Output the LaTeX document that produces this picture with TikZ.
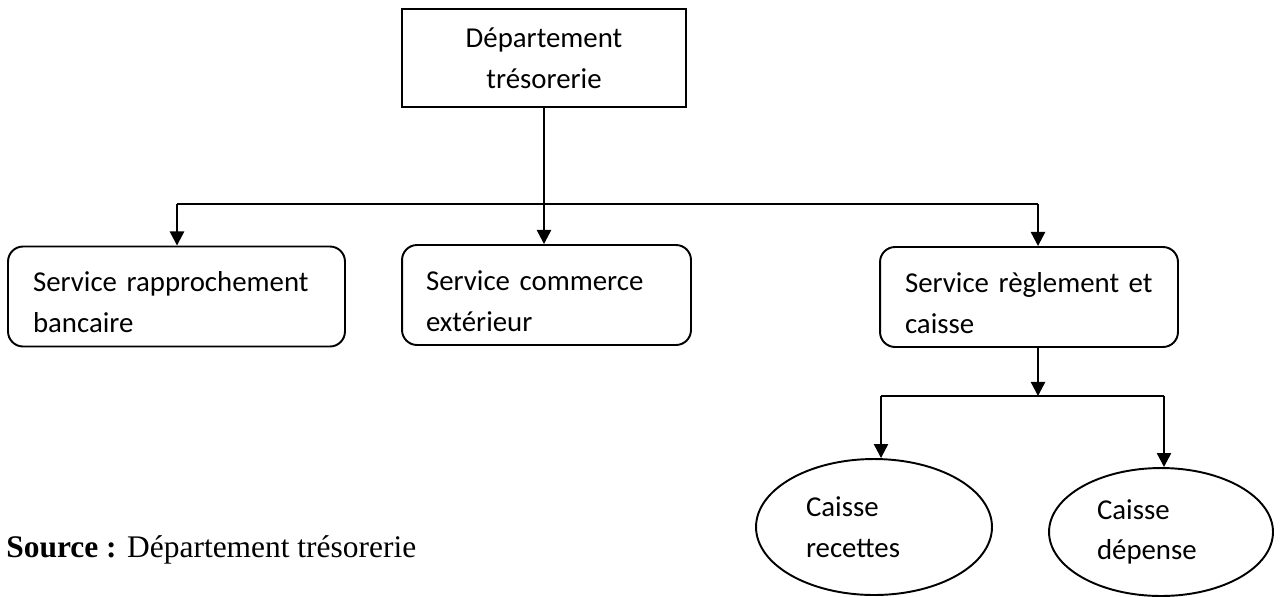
\documentclass[tikz,border=0pt]{standalone}
\usepackage{fontspec}
\setmainfont{Carlito}
\newfontfamily\timesfont{Liberation Serif}
\usetikzlibrary{arrows.meta,shapes.geometric}

\begin{document}
\begin{tikzpicture}[x=0.02cm, y=-0.02cm,
  every node/.style={font=\fontsize{16.4}{23.2}\selectfont, inner sep=0pt},
  caja/.style={draw, line width=1.1pt, align=left, minimum height=2cm},
  redonda/.style={caja, rounded corners=0.3cm},
  ovalo/.style={draw, ellipse, line width=1.1pt, align=left},
  linea/.style={line width=1.3pt},
  flecha/.style={linea, -{Triangle[length=8pt,width=8pt]}}]
  \useasboundingbox (0,0) rectangle (1280,596);

  % Nodos
  \node[caja, align=center, minimum width=5.68cm, minimum height=1.96cm] (dep) at (544,58) {Département\\trésorerie};
  \node[redonda, minimum width=6.74cm, text width=5.74cm] (rap) at (176.5,296.5) {\rule{0pt}{18pt}Service rapprochement\\bancaire};
  \node[redonda, minimum width=5.78cm, text width=4.82cm] (com) at (546.5,295) {\rule{0pt}{18pt}Service commerce\\extérieur};
  \node[redonda, minimum width=5.96cm, text width=4.96cm] (reg) at (1029,297) {\rule{0pt}{18pt}Service règlement et\\caisse};
  \node[ovalo, minimum width=4.72cm, minimum height=2.72cm, text width=2.72cm] (rec) at (874,527) {Caisse\\recettes};
  \node[ovalo, minimum width=4.48cm, minimum height=2.56cm, text width=2.56cm] (dpn) at (1161,532) {Caisse\\dépense};
  \node[anchor=base west, font=\timesfont\fontsize{17.9}{20}\selectfont] (src) at (6,557) {\textbf{Source :} Département trésorerie};

  \coordinate (h1) at (177,204);
  \coordinate (h2) at (1038,204);
  \coordinate (b0) at (1038,396);
  \coordinate (b1) at (881,396);
  \coordinate (b2) at (1164,396);

  \draw[linea] (h1) -- (h2);
  \draw[flecha] (dep.south) -- (dep.south |- com.north);
  \draw[flecha] (h1) -- (h1 |- rap.north);
  \draw[flecha] (h2) -- (h2 |- reg.north);
  \draw[flecha] (b0 |- reg.south) -- (b0);
  \draw[linea] (b1) -- (b2);
  \draw[flecha] (b1) -- (b1 |- rec.north);
  \draw[flecha] (b2) -- (b2 |- dpn.north);
\end{tikzpicture}
\end{document}
